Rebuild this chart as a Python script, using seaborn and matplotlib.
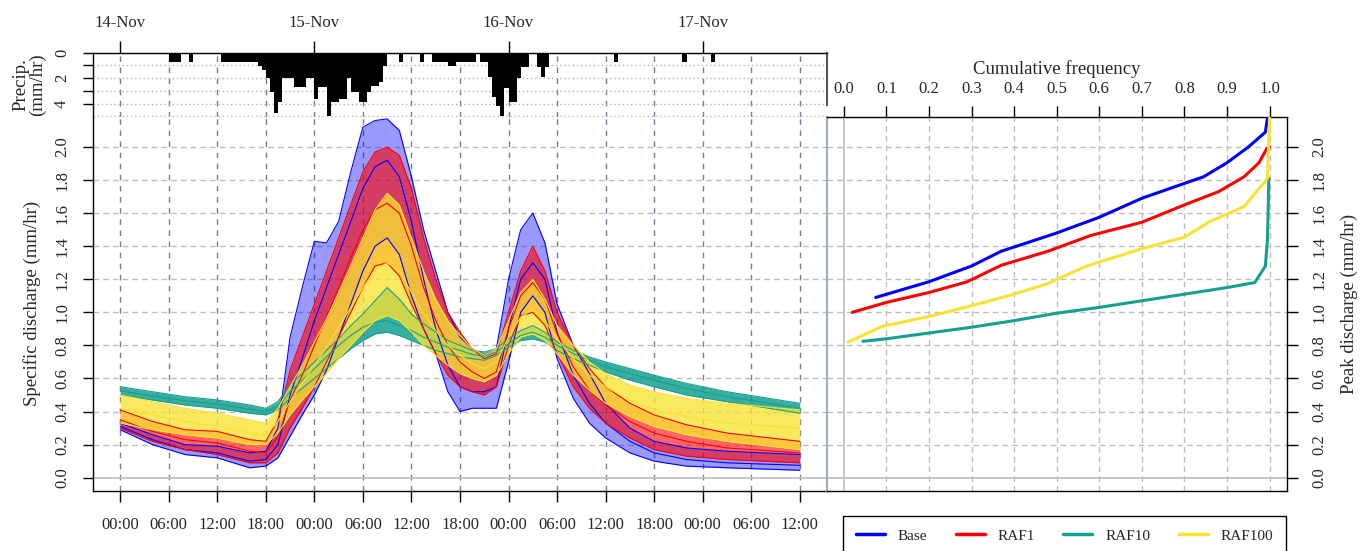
import pandas as pd
import matplotlib
matplotlib.use("Agg")
import matplotlib.pyplot as plt
from matplotlib.lines import Line2D
import seaborn as sns

# time axis in hours from 14-Nov 00:00
hours = [0, 4, 8, 12, 16, 18, 19.5, 21, 22.5, 24, 25.5, 27, 28.5, 30, 31.5, 33,
         34.5, 36, 37.5, 39, 40.5, 42, 43.5, 45, 46.5, 48, 49.5, 51, 52.5, 54,
         56, 58, 60, 63, 66, 70, 75, 84]

# ensemble envelopes (low / middle / high member)
base_lo = [0.29, 0.20, 0.14, 0.12, 0.06, 0.07, 0.12, 0.25, 0.38, 0.50, 0.65, 0.85, 1.05, 1.25, 1.40, 1.45,
           1.35, 1.10, 0.90, 0.75, 0.52, 0.40, 0.42, 0.42, 0.42, 0.70, 1.00, 1.10, 1.00, 0.72,
           0.48, 0.33, 0.24, 0.15, 0.10, 0.07, 0.06, 0.045]
base_mid = [0.31, 0.23, 0.17, 0.15, 0.10, 0.11, 0.20, 0.50, 0.72, 0.95, 1.15, 1.35, 1.55, 1.75, 1.88, 1.92,
            1.82, 1.55, 1.20, 0.90, 0.68, 0.55, 0.52, 0.52, 0.55, 0.90, 1.20, 1.30, 1.20, 0.88,
            0.62, 0.45, 0.33, 0.22, 0.15, 0.11, 0.09, 0.075]
base_hi = [0.33, 0.26, 0.20, 0.19, 0.15, 0.16, 0.30, 0.85, 1.15, 1.43, 1.42, 1.55, 1.85, 2.12, 2.16, 2.17,
           2.10, 1.82, 1.50, 1.25, 1.00, 0.85, 0.78, 0.74, 0.78, 1.20, 1.50, 1.60, 1.42, 1.05,
           0.80, 0.63, 0.45, 0.30, 0.22, 0.18, 0.16, 0.14]

raf1_lo = [0.30, 0.22, 0.17, 0.14, 0.09, 0.09, 0.15, 0.30, 0.42, 0.55, 0.70, 0.85, 1.00, 1.15, 1.28, 1.30,
           1.22, 1.05, 0.90, 0.75, 0.62, 0.55, 0.52, 0.50, 0.55, 0.80, 0.98, 1.00, 0.92, 0.75,
           0.55, 0.42, 0.33, 0.24, 0.17, 0.13, 0.11, 0.09]
raf1_mid = [0.35, 0.28, 0.23, 0.21, 0.16, 0.15, 0.25, 0.47, 0.62, 0.80, 0.97, 1.15, 1.33, 1.50, 1.62, 1.66,
            1.60, 1.40, 1.15, 0.95, 0.80, 0.70, 0.64, 0.60, 0.64, 0.90, 1.10, 1.18, 1.08, 0.87,
            0.67, 0.53, 0.44, 0.34, 0.27, 0.22, 0.18, 0.15]
raf1_hi = [0.41, 0.34, 0.29, 0.28, 0.23, 0.22, 0.35, 0.65, 0.85, 1.05, 1.25, 1.45, 1.65, 1.85, 1.97, 2.00,
           1.95, 1.75, 1.45, 1.20, 1.00, 0.88, 0.78, 0.72, 0.75, 1.00, 1.25, 1.40, 1.25, 1.00,
           0.80, 0.66, 0.55, 0.45, 0.38, 0.32, 0.27, 0.22]

raf10_lo = [0.50, 0.47, 0.44, 0.42, 0.39, 0.38, 0.41, 0.48, 0.54, 0.60, 0.66, 0.72, 0.78, 0.83, 0.87, 0.88,
            0.86, 0.83, 0.80, 0.77, 0.75, 0.73, 0.72, 0.71, 0.74, 0.79, 0.83, 0.84, 0.82, 0.77,
            0.72, 0.68, 0.64, 0.59, 0.55, 0.50, 0.46, 0.39]
raf10_mid = [0.525, 0.495, 0.465, 0.445, 0.415, 0.40, 0.43, 0.52, 0.59, 0.66, 0.73, 0.80, 0.86, 0.91, 0.94, 0.95,
             0.92, 0.89, 0.85, 0.82, 0.79, 0.77, 0.745, 0.735, 0.76, 0.81, 0.86, 0.88, 0.85, 0.80,
             0.75, 0.71, 0.67, 0.63, 0.59, 0.54, 0.49, 0.42]
raf10_hi = [0.55, 0.52, 0.49, 0.47, 0.44, 0.42, 0.46, 0.56, 0.63, 0.70, 0.77, 0.84, 0.92, 0.99, 1.07, 1.15,
            1.08, 0.99, 0.93, 0.88, 0.83, 0.80, 0.77, 0.76, 0.78, 0.84, 0.89, 0.92, 0.88, 0.82,
            0.77, 0.73, 0.70, 0.66, 0.62, 0.57, 0.52, 0.45]

raf100_lo = [0.33, 0.29, 0.26, 0.24, 0.20, 0.20, 0.27, 0.38, 0.47, 0.55, 0.63, 0.72, 0.80, 0.88, 0.95, 0.98,
             0.95, 0.88, 0.80, 0.74, 0.68, 0.63, 0.60, 0.58, 0.62, 0.75, 0.85, 0.87, 0.83, 0.75,
             0.62, 0.53, 0.45, 0.37, 0.31, 0.26, 0.22, 0.17]
raf100_mid = [0.42, 0.38, 0.34, 0.31, 0.27, 0.26, 0.34, 0.46, 0.57, 0.68, 0.79, 0.91, 1.03, 1.15, 1.25, 1.30,
              1.25, 1.12, 0.99, 0.89, 0.80, 0.74, 0.69, 0.66, 0.70, 0.85, 0.97, 1.02, 0.95, 0.84,
              0.72, 0.62, 0.55, 0.47, 0.41, 0.37, 0.33, 0.30]
raf100_hi = [0.50, 0.46, 0.42, 0.39, 0.35, 0.33, 0.42, 0.55, 0.68, 0.82, 0.96, 1.12, 1.28, 1.45, 1.62, 1.72,
             1.65, 1.45, 1.25, 1.08, 0.95, 0.86, 0.78, 0.74, 0.78, 0.95, 1.12, 1.20, 1.08, 0.92,
             0.80, 0.70, 0.63, 0.56, 0.52, 0.48, 0.45, 0.41]

# rainfall, half-hour bins (bin start hour, mm/hr)
precip_start = [6.0, 6.5, 7.0, 8.5,
                12.5, 13.0, 13.5, 14.0, 14.5, 15.0, 15.5, 16.0, 16.5, 17.0, 17.5, 18.0, 18.5,
                19.0, 19.5, 20.0, 20.5, 21.0, 21.5, 22.0, 22.5, 23.0, 23.5, 24.0, 24.5, 25.0,
                25.5, 26.0, 26.5, 27.0, 27.5, 28.0, 28.5, 29.0, 29.5, 30.0, 30.5, 31.0, 31.5,
                32.0, 32.5, 34.5, 37.0, 38.5, 39.0, 39.5, 40.0, 40.5, 41.0, 41.5, 42.0, 42.5,
                43.0, 43.5, 44.5, 45.0, 45.5, 46.0, 46.5, 47.0, 47.5, 48.0, 48.5, 49.0, 49.5,
                50.0, 51.5, 52.0, 52.5, 61.0, 69.5, 73.0]
precip_mm = [0.7, 0.7, 0.7, 0.7,
             0.7, 0.7, 0.7, 0.7, 0.7, 0.7, 0.7, 0.7, 0.7, 1.05, 1.35, 2.0, 3.05,
             4.7, 3.85, 2.0, 2.0, 2.0, 2.7, 2.7, 2.7, 2.0, 2.0, 3.65, 2.7, 2.7,
             5.0, 3.85, 3.85, 3.6, 3.6, 2.0, 3.1, 3.1, 3.85, 3.85, 3.1, 2.6, 2.6,
             2.3, 1.05, 0.7, 0.7, 0.7, 0.7, 0.7, 0.7, 1.05, 1.05, 0.7, 0.7, 0.7,
             0.7, 0.7, 0.7, 0.7, 1.9, 3.45, 4.2, 5.0, 2.8, 3.9, 3.9, 2.0, 1.1,
             1.1, 1.1, 1.9, 1.1, 0.7, 0.7, 0.7]

# cumulative frequency of peak discharge
cdf_base_f = [0.075, 0.2, 0.3, 0.37, 0.4, 0.5, 0.6, 0.7, 0.8, 0.845, 0.9, 0.95, 0.99, 0.995]
cdf_base_q = [1.09, 1.185, 1.28, 1.37, 1.395, 1.48, 1.575, 1.69, 1.78, 1.82, 1.905, 2.0, 2.09, 2.18]
cdf_raf1_f = [0.02, 0.1, 0.2, 0.29, 0.37, 0.48, 0.58, 0.7, 0.8, 0.88, 0.94, 0.975, 0.993, 1.0]
cdf_raf1_q = [1.0, 1.06, 1.12, 1.185, 1.285, 1.37, 1.465, 1.545, 1.65, 1.73, 1.82, 1.905, 1.99, 2.0]
cdf_raf10_f = [0.045, 0.1, 0.2, 0.3, 0.4, 0.5, 0.6, 0.7, 0.8, 0.9, 0.965, 0.99, 0.995, 0.998]
cdf_raf10_q = [0.825, 0.84, 0.875, 0.91, 0.95, 0.995, 1.03, 1.07, 1.11, 1.15, 1.18, 1.28, 1.45, 1.81]
cdf_raf100_f = [0.01, 0.09, 0.2, 0.3, 0.4, 0.48, 0.57, 0.7, 0.8, 0.86, 0.94, 0.995, 1.0]
cdf_raf100_q = [0.82, 0.915, 0.975, 1.04, 1.11, 1.175, 1.28, 1.385, 1.455, 1.55, 1.64, 1.81, 2.18]

groups = ["Base", "RAF1", "RAF10", "RAF100"]
colors = {"Base": "#0000ff", "RAF1": "#ff0000", "RAF10": "#14a08f", "RAF100": "#f9e232"}
day_labels = ["14-Nov", "15-Nov", "16-Nov", "17-Nov"]
hour_labels = ["00:00", "06:00", "12:00", "18:00"] * 3 + ["00:00", "06:00", "12:00"]

ensembles = {
    "Base": (base_lo, base_mid, base_hi),
    "RAF1": (raf1_lo, raf1_mid, raf1_hi),
    "RAF10": (raf10_lo, raf10_mid, raf10_hi),
    "RAF100": (raf100_lo, raf100_mid, raf100_hi),
}
fill_alpha = {"Base": 0.4, "RAF1": 0.6, "RAF10": 0.85, "RAF100": 0.78}

cdf = pd.concat([
    pd.DataFrame({"freq": cdf_base_f, "peak": cdf_base_q, "group": "Base"}),
    pd.DataFrame({"freq": cdf_raf1_f, "peak": cdf_raf1_q, "group": "RAF1"}),
    pd.DataFrame({"freq": cdf_raf10_f, "peak": cdf_raf10_q, "group": "RAF10"}),
    pd.DataFrame({"freq": cdf_raf100_f, "peak": cdf_raf100_q, "group": "RAF100"}),
])

sns.set_style("white")
plt.rcParams["font.family"] = ["Liberation Serif", "DejaVu Serif"]
plt.rcParams["axes.linewidth"] = 1.0

W, H = 1360, 551
fig = plt.figure(figsize=(13.6, 5.51), dpi=100)
ax = fig.add_axes([93 / W, 1 - 491 / H, 734 / W, (491 - 116.7) / H])
axp = fig.add_axes([93 / W, 1 - 116.7 / H, 734 / W, 64 / H])
axr = fig.add_axes([826.7 / W, 1 - 491 / H, 460 / W, (491 - 116.7) / H])

xlim = (-3.36, 87.36)
ylim = (-0.0804, 2.1832)
grid_v = "#6f8194"
grid_h = "#bdbdbd"
tick_fs = 12

# ---- hydrographs ----
for h in range(0, 85, 6):
    ax.axvline(h, color=grid_v, lw=1.0, ls=(0, (4, 4)), zorder=0.5)
    axp.axvline(h, color=grid_v, lw=1.0, ls=(0, (4, 4)), zorder=0.5)
for k in range(1, 11):
    ax.axhline(0.2 * k, color=grid_h, lw=1.0, ls=(0, (4, 3)), zorder=0.5)
ax.axhline(0, color=grid_h, lw=1.2, zorder=0.5)

for g in groups:
    lo, mid, hi = ensembles[g]
    ax.fill_between(hours, lo, hi, color=colors[g], alpha=fill_alpha[g], lw=0, zorder=2)
    df = pd.DataFrame({"hour": hours * 3, "q": lo + mid + hi,
                       "member": ["lo"] * len(hours) + ["mid"] * len(hours) + ["hi"] * len(hours)})
    sns.lineplot(data=df, x="hour", y="q", units="member", estimator=None, color=colors[g],
                 lw=0.8, ax=ax, legend=False, zorder=3)

ax.set_xlim(xlim)
ax.set_ylim(ylim)
ax.set_xticks(range(0, 85, 6))
ax.set_xticklabels(hour_labels)
ax.set_yticks([0.2 * k for k in range(11)])
ax.set_yticklabels([f"{0.2 * k:.1f}" for k in range(11)], rotation=90, va="center")
ax.tick_params(axis="x", bottom=True, length=8, width=1, pad=11, labelsize=tick_fs, color="black")
ax.tick_params(axis="y", left=True, length=7.5, width=1, pad=9, labelsize=tick_fs, color="black")
ax.set_xlabel("")
ax.set_ylabel("Specific discharge (mm/hr)", fontsize=13.5)
ax.yaxis.set_label_coords(-0.071, 0.5)
for s in ["top", "right"]:
    ax.spines[s].set_visible(False)
for s in ["left", "bottom"]:
    ax.spines[s].set_color("black")

# ---- rainfall ----
for k in range(0, 6):
    axp.axhline(k, color="#b0b0b0", lw=1.0, ls=(0, (1, 2)), zorder=0.5)
axp.bar(precip_start, precip_mm, width=0.5, align="edge", color="black", lw=0, zorder=3)
axp.set_xlim(xlim)
axp.set_ylim(5.02, 0)
axp.xaxis.tick_top()
axp.set_xticks([0, 24, 48, 72])
axp.set_xticklabels(day_labels)
axp.tick_params(axis="x", top=True, bottom=False, length=8.5, width=1, pad=7, labelsize=tick_fs,
                color="black")
axp.set_yticks([0, 1, 2, 3, 4])
axp.set_yticklabels(["0", "", "2", "", "4"], rotation=90, va="center")
axp.tick_params(axis="y", left=True, length=7.5, width=1, pad=9, labelsize=tick_fs, color="black")
axp.set_ylabel("Precip.\n(mm/hr)", fontsize=13.5, linespacing=0.95)
axp.yaxis.set_label_coords(-0.064, 0.5)
axp.spines["bottom"].set_visible(False)
axp.spines["right"].set_bounds(0, 4.1)
axp.spines["right"].set_color("#555555")
axp.spines["right"].set_linewidth(1.5)
for s in ["left", "top"]:
    axp.spines[s].set_color("black")

# ---- cumulative frequency of peaks ----
for k in range(1, 11):
    axr.axvline(0.1 * k, color=grid_h, lw=1.0, ls=(0, (4, 3)), zorder=0.5)
    axr.axhline(0.2 * k, color=grid_h, lw=1.0, ls=(0, (4, 3)), zorder=0.5)
axr.axvline(0, color=grid_h, lw=1.2, zorder=0.5)
axr.axhline(0, color=grid_h, lw=1.2, zorder=0.5)
sns.lineplot(data=cdf, x="freq", y="peak", hue="group", palette=colors, sort=False,
             estimator=None, lw=2.2, ax=axr, legend=False, zorder=3)
axr.set_xlim(-0.04, 1.04)
axr.set_ylim(ylim)
axr.xaxis.tick_top()
axr.xaxis.set_label_position("top")
axr.yaxis.tick_right()
axr.yaxis.set_label_position("right")
axr.set_xticks([0.1 * k for k in range(11)])
axr.set_xticklabels([f"{0.1 * k:.1f}" for k in range(11)])
axr.set_yticks([0.2 * k for k in range(11)])
axr.set_yticklabels([f"{0.2 * k:.1f}" for k in range(11)], rotation=90, va="center")
axr.tick_params(axis="x", top=True, bottom=False, length=8, width=1, pad=6, labelsize=tick_fs,
                color="black")
axr.tick_params(axis="y", right=True, left=False, length=8, width=1, pad=10, labelsize=tick_fs,
                color="black")
axr.set_xlabel("Cumulative frequency", fontsize=13.5, labelpad=5)
axr.set_ylabel("Peak discharge (mm/hr)", fontsize=13.5, rotation=90, labelpad=9)
for s in ["top", "right", "bottom"]:
    axr.spines[s].set_color("black")
axr.spines["left"].set_color("#9fb0c0")
axr.spines["left"].set_linewidth(1.6)

handles = [Line2D([], [], color=colors[g], lw=2.5) for g in groups]
fig.legend(handles, groups, loc="upper left", bbox_to_anchor=(843 / W, 1 - 516 / H),
           ncol=4, fontsize=11, frameon=True, fancybox=False, edgecolor="black",
           borderaxespad=0, borderpad=0.85, handlelength=1.9, handletextpad=0.85,
           columnspacing=1.85, framealpha=1)

fig.savefig("out.png", dpi=100)
